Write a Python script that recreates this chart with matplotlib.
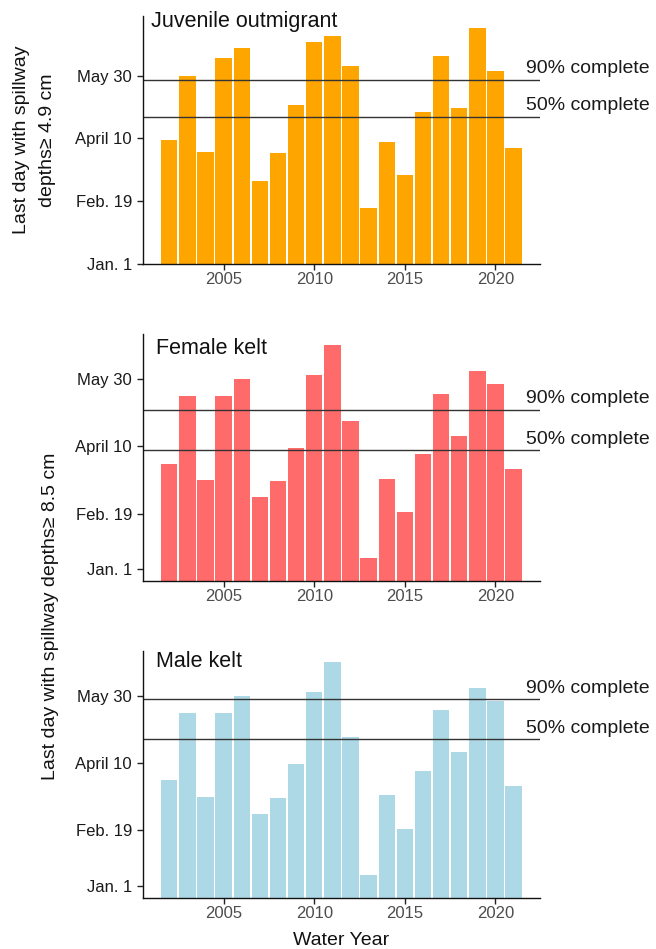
import numpy as np
import matplotlib
matplotlib.use("Agg")
import matplotlib.pyplot as plt

plt.rcParams['font.family'] = ['Liberation Sans', 'DejaVu Sans']

# Water years and "last day" values (day of year)
years = list(range(2002, 2022))
juvenile = [99, 150, 89, 164, 172, 66, 88, 127, 177, 182,
            158, 44, 97, 71, 121, 166, 124, 188, 154, 92]
female = [87, 137, 75, 137, 150, 62, 74, 99, 153, 175,
          119, 17, 76, 51, 94, 139, 108, 156, 146, 83]
male = [87, 137, 75, 137, 150, 62, 74, 99, 153, 175,
        119, 17, 76, 51, 94, 139, 108, 156, 146, 83]

# 90% / 50% completion lines for each panel
juv_lines = [147, 117.2]
fem_lines = [127, 97]
male_lines = [147.3, 117.6]

titles = ["Juvenile outmigrant", "Female kelt", "Male kelt"]
colors = ["#FFA500", "#FF6A6A", "#ADD8E6"]
tick_labels = ["Jan. 1", "Feb. 19", "April 10", "May 30"]
ticks_juv = [0, 50, 100, 150]
ticks_kelt = [8.7, 50, 100, 150]

fig = plt.figure(figsize=(6.56, 9.49), dpi=100)

panels = [
    # (rect, values, lines, ticks, ylim top, title y)
    ([0.218, 0.7223, 0.605, 0.2608], juvenile, juv_lines, ticks_juv, 197.7, 0.976),
    ([0.218, 0.3878, 0.605, 0.2603], female, fem_lines, ticks_kelt, 183.4, 0.943),
    ([0.218, 0.0541, 0.605, 0.2603], male, male_lines, ticks_kelt, 183.4, 0.954),
]

for i, (rect, vals, lines, yt, ytop, ty) in enumerate(panels):
    ax = fig.add_axes(rect)
    ax.bar(years, vals, width=0.9, color=colors[i], linewidth=0)
    ax.set_xlim(2000.55, 2022.45)
    ax.set_ylim(0, ytop)

    for ln, lab in zip(lines, ["90% complete", "50% complete"]):
        ax.axhline(ln, color="#333333", lw=1.0)
        ax.annotate(lab, xy=(2021.7, ln), xytext=(0, 4.7),
                    textcoords="offset points", ha="left", va="baseline",
                    fontsize=14, color="#1a1a1a", annotation_clip=False)

    ax.text(0.02 if i == 0 else 0.032, ty, titles[i], transform=ax.transAxes,
            ha="left", va="center", fontsize=15.5, color="#111111")

    ax.set_yticks(yt)
    ax.set_yticklabels(tick_labels, fontsize=12, color="#1a1a1a")
    ax.set_xticks([2005, 2010, 2015, 2020])
    ax.set_xticklabels(["2005", "2010", "2015", "2020"], fontsize=12, color="#4d4d4d")
    ax.tick_params(length=4, width=1, color="#222222", pad=2)
    ax.tick_params(axis="y", pad=4)
    for s in ["top", "right"]:
        ax.spines[s].set_visible(False)
    for s in ["left", "bottom"]:
        ax.spines[s].set_linewidth(1.0)
        ax.spines[s].set_color("#111111")

    if i == 2:
        ax.set_xlabel("Water Year", fontsize=14, color="#111111", labelpad=8)

# y labels
fig.text(22 / 656, 1 - 140 / 949, "Last day with spillway", rotation=90,
         ha="center", va="center", fontsize=14, color="#111111")
fig.text(48 / 656, 1 - 140 / 949, "depths\u2265 4.9 cm", rotation=90,
         ha="center", va="center", fontsize=14, color="#111111")
fig.text(51 / 656, 1 - 616 / 949, "Last day with spillway depths\u2265 8.5 cm",
         rotation=90, ha="center", va="center", fontsize=14, color="#111111")

fig.savefig("out.png", dpi=100)
